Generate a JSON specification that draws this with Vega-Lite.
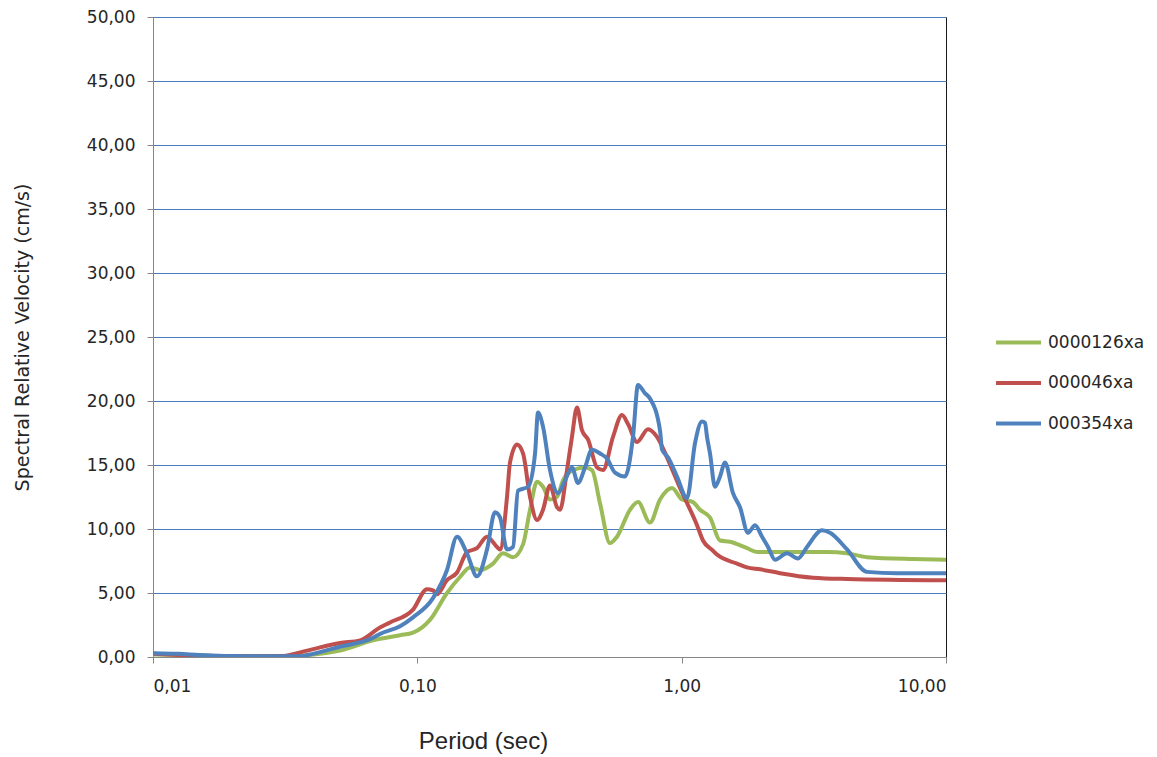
{
  "$schema": "https://vega.github.io/schema/vega-lite/v6.json",
  "autosize": {"type": "none"},
  "padding": {"left": 153, "top": 17, "right": 211, "bottom": 100},
  "width": 793,
  "height": 640,
  "background": "#ffffff",
  "config": {
    "view": {"stroke": "#1a1a1a", "strokeWidth": 1},
    "axis": {
      "labelFont": "DejaVu Sans",
      "labelFontSize": 17,
      "labelColor": "#262626",
      "domainColor": "#868686",
      "tickColor": "#868686",
      "tickSize": 6,
      "titleColor": "#262626",
      "titleFontWeight": "normal"
    },
    "legend": {
      "labelFont": "DejaVu Sans",
      "labelFontSize": 17,
      "labelColor": "#262626"
    }
  },
  "data": {
    "values": [
      {"record": "0000126xa", "period": 0.01, "velocity": 0.2},
      {"record": "0000126xa", "period": 0.0125, "velocity": 0.18},
      {"record": "0000126xa", "period": 0.015, "velocity": 0.12},
      {"record": "0000126xa", "period": 0.0233, "velocity": 0.05},
      {"record": "0000126xa", "period": 0.03, "velocity": 0.05},
      {"record": "0000126xa", "period": 0.036, "velocity": 0.1},
      {"record": "0000126xa", "period": 0.051, "velocity": 0.5},
      {"record": "0000126xa", "period": 0.068, "velocity": 1.3},
      {"record": "0000126xa", "period": 0.086, "velocity": 1.7},
      {"record": "0000126xa", "period": 0.0963, "velocity": 1.9},
      {"record": "0000126xa", "period": 0.1116, "velocity": 2.9},
      {"record": "0000126xa", "period": 0.1295, "velocity": 5.0},
      {"record": "0000126xa", "period": 0.145, "velocity": 6.25},
      {"record": "0000126xa", "period": 0.1582, "velocity": 7.0},
      {"record": "0000126xa", "period": 0.1726, "velocity": 6.8},
      {"record": "0000126xa", "period": 0.1933, "velocity": 7.3},
      {"record": "0000126xa", "period": 0.2109, "velocity": 8.1},
      {"record": "0000126xa", "period": 0.2301, "velocity": 7.8},
      {"record": "0000126xa", "period": 0.2511, "velocity": 8.8},
      {"record": "0000126xa", "period": 0.2669, "velocity": 11.5},
      {"record": "0000126xa", "period": 0.2837, "velocity": 13.7},
      {"record": "0000126xa", "period": 0.2988, "velocity": 13.3},
      {"record": "0000126xa", "period": 0.3176, "velocity": 12.3},
      {"record": "0000126xa", "period": 0.3375, "velocity": 12.5},
      {"record": "0000126xa", "period": 0.3557, "velocity": 13.8},
      {"record": "0000126xa", "period": 0.388, "velocity": 14.6},
      {"record": "0000126xa", "period": 0.4308, "velocity": 14.8},
      {"record": "0000126xa", "period": 0.4579, "velocity": 14.6},
      {"record": "0000126xa", "period": 0.4911, "velocity": 12.0},
      {"record": "0000126xa", "period": 0.5357, "velocity": 8.9},
      {"record": "0000126xa", "period": 0.5694, "velocity": 9.4},
      {"record": "0000126xa", "period": 0.6376, "velocity": 11.5},
      {"record": "0000126xa", "period": 0.6837, "velocity": 12.1},
      {"record": "0000126xa", "period": 0.7589, "velocity": 10.5},
      {"record": "0000126xa", "period": 0.8282, "velocity": 12.3},
      {"record": "0000126xa", "period": 0.9194, "velocity": 13.2},
      {"record": "0000126xa", "period": 1.003, "velocity": 12.3},
      {"record": "0000126xa", "period": 1.104, "velocity": 12.1},
      {"record": "0000126xa", "period": 1.173, "velocity": 11.5},
      {"record": "0000126xa", "period": 1.28, "velocity": 10.9},
      {"record": "0000126xa", "period": 1.397, "velocity": 9.1},
      {"record": "0000126xa", "period": 1.524, "velocity": 9.0},
      {"record": "0000126xa", "period": 1.767, "velocity": 8.5},
      {"record": "0000126xa", "period": 1.928, "velocity": 8.2},
      {"record": "0000126xa", "period": 2.355, "velocity": 8.2},
      {"record": "0000126xa", "period": 3.547, "velocity": 8.2},
      {"record": "0000126xa", "period": 4.222, "velocity": 8.1},
      {"record": "0000126xa", "period": 5.025, "velocity": 7.8},
      {"record": "0000126xa", "period": 7.505, "velocity": 7.65},
      {"record": "0000126xa", "period": 10, "velocity": 7.6},

      {"record": "000046xa", "period": 0.01, "velocity": 0.25},
      {"record": "000046xa", "period": 0.015, "velocity": 0.1},
      {"record": "000046xa", "period": 0.0233, "velocity": 0.05},
      {"record": "000046xa", "period": 0.031, "velocity": 0.08},
      {"record": "000046xa", "period": 0.0383, "velocity": 0.5},
      {"record": "000046xa", "period": 0.051, "velocity": 1.1},
      {"record": "000046xa", "period": 0.0607, "velocity": 1.3},
      {"record": "000046xa", "period": 0.0722, "velocity": 2.3},
      {"record": "000046xa", "period": 0.0788, "velocity": 2.7},
      {"record": "000046xa", "period": 0.0963, "velocity": 3.7},
      {"record": "000046xa", "period": 0.1088, "velocity": 5.3},
      {"record": "000046xa", "period": 0.1146, "velocity": 5.2},
      {"record": "000046xa", "period": 0.1187, "velocity": 4.9},
      {"record": "000046xa", "period": 0.1295, "velocity": 6.0},
      {"record": "000046xa", "period": 0.1413, "velocity": 6.6},
      {"record": "000046xa", "period": 0.1541, "velocity": 8.2},
      {"record": "000046xa", "period": 0.1681, "velocity": 8.5},
      {"record": "000046xa", "period": 0.1835, "velocity": 9.4},
      {"record": "000046xa", "period": 0.2001, "velocity": 8.6},
      {"record": "000046xa", "period": 0.2055, "velocity": 8.4},
      {"record": "000046xa", "period": 0.2184, "velocity": 12.5},
      {"record": "000046xa", "period": 0.2242, "velocity": 15.2},
      {"record": "000046xa", "period": 0.2383, "velocity": 16.6},
      {"record": "000046xa", "period": 0.2511, "velocity": 15.9},
      {"record": "000046xa", "period": 0.2669, "velocity": 12.5},
      {"record": "000046xa", "period": 0.2837, "velocity": 10.7},
      {"record": "000046xa", "period": 0.2988, "velocity": 11.5},
      {"record": "000046xa", "period": 0.3176, "velocity": 13.4},
      {"record": "000046xa", "period": 0.3375, "velocity": 11.7},
      {"record": "000046xa", "period": 0.3465, "velocity": 11.5},
      {"record": "000046xa", "period": 0.3683, "velocity": 14.6},
      {"record": "000046xa", "period": 0.3846, "velocity": 17.2},
      {"record": "000046xa", "period": 0.4018, "velocity": 19.5},
      {"record": "000046xa", "period": 0.4198, "velocity": 17.7},
      {"record": "000046xa", "period": 0.4422, "velocity": 17.0},
      {"record": "000046xa", "period": 0.4783, "velocity": 14.8},
      {"record": "000046xa", "period": 0.504, "velocity": 14.6},
      {"record": "000046xa", "period": 0.5499, "velocity": 17.2},
      {"record": "000046xa", "period": 0.5947, "velocity": 18.9},
      {"record": "000046xa", "period": 0.6266, "velocity": 18.2},
      {"record": "000046xa", "period": 0.6778, "velocity": 16.8},
      {"record": "000046xa", "period": 0.7461, "velocity": 17.8},
      {"record": "000046xa", "period": 0.8067, "velocity": 17.2},
      {"record": "000046xa", "period": 0.88, "velocity": 15.6},
      {"record": "000046xa", "period": 0.9856, "velocity": 13.2},
      {"record": "000046xa", "period": 1.143, "velocity": 10.3},
      {"record": "000046xa", "period": 1.204, "velocity": 9.1},
      {"record": "000046xa", "period": 1.314, "velocity": 8.3},
      {"record": "000046xa", "period": 1.36, "velocity": 8.0},
      {"record": "000046xa", "period": 1.62, "velocity": 7.3},
      {"record": "000046xa", "period": 1.767, "velocity": 7.0},
      {"record": "000046xa", "period": 1.979, "velocity": 6.85},
      {"record": "000046xa", "period": 2.355, "velocity": 6.55},
      {"record": "000046xa", "period": 3.14, "velocity": 6.2},
      {"record": "000046xa", "period": 4.222, "velocity": 6.1},
      {"record": "000046xa", "period": 10, "velocity": 6.0},

      {"record": "000354xa", "period": 0.01, "velocity": 0.3},
      {"record": "000354xa", "period": 0.0125, "velocity": 0.25},
      {"record": "000354xa", "period": 0.015, "velocity": 0.15},
      {"record": "000354xa", "period": 0.0233, "velocity": 0.05},
      {"record": "000354xa", "period": 0.036, "velocity": 0.05},
      {"record": "000354xa", "period": 0.0383, "velocity": 0.15},
      {"record": "000354xa", "period": 0.051, "velocity": 0.8},
      {"record": "000354xa", "period": 0.068, "velocity": 1.5},
      {"record": "000354xa", "period": 0.0722, "velocity": 1.8},
      {"record": "000354xa", "period": 0.086, "velocity": 2.4},
      {"record": "000354xa", "period": 0.0963, "velocity": 3.1},
      {"record": "000354xa", "period": 0.1146, "velocity": 4.6},
      {"record": "000354xa", "period": 0.1295, "velocity": 6.8},
      {"record": "000354xa", "period": 0.1413, "velocity": 9.4},
      {"record": "000354xa", "period": 0.1541, "velocity": 8.1},
      {"record": "000354xa", "period": 0.1681, "velocity": 6.3},
      {"record": "000354xa", "period": 0.1835, "velocity": 8.4},
      {"record": "000354xa", "period": 0.1967, "velocity": 11.3},
      {"record": "000354xa", "period": 0.2055, "velocity": 10.9},
      {"record": "000354xa", "period": 0.2184, "velocity": 8.4},
      {"record": "000354xa", "period": 0.2301, "velocity": 8.6},
      {"record": "000354xa", "period": 0.2404, "velocity": 13.0},
      {"record": "000354xa", "period": 0.2623, "velocity": 13.3},
      {"record": "000354xa", "period": 0.2788, "velocity": 15.9},
      {"record": "000354xa", "period": 0.2861, "velocity": 19.1},
      {"record": "000354xa", "period": 0.2988, "velocity": 18.0},
      {"record": "000354xa", "period": 0.3176, "velocity": 14.6},
      {"record": "000354xa", "period": 0.3405, "velocity": 12.8},
      {"record": "000354xa", "period": 0.362, "velocity": 13.8},
      {"record": "000354xa", "period": 0.3846, "velocity": 14.8},
      {"record": "000354xa", "period": 0.4053, "velocity": 13.6},
      {"record": "000354xa", "period": 0.4308, "velocity": 14.8},
      {"record": "000354xa", "period": 0.4579, "velocity": 16.2},
      {"record": "000354xa", "period": 0.4911, "velocity": 15.9},
      {"record": "000354xa", "period": 0.5218, "velocity": 15.5},
      {"record": "000354xa", "period": 0.5595, "velocity": 14.4},
      {"record": "000354xa", "period": 0.6104, "velocity": 14.1},
      {"record": "000354xa", "period": 0.6545, "velocity": 17.2},
      {"record": "000354xa", "period": 0.6837, "velocity": 21.25},
      {"record": "000354xa", "period": 0.7268, "velocity": 20.6},
      {"record": "000354xa", "period": 0.7589, "velocity": 20.2},
      {"record": "000354xa", "period": 0.8282, "velocity": 17.7},
      {"record": "000354xa", "period": 0.8427, "velocity": 16.2},
      {"record": "000354xa", "period": 0.8877, "velocity": 15.6},
      {"record": "000354xa", "period": 0.9603, "velocity": 14.1},
      {"record": "000354xa", "period": 1.048, "velocity": 12.4},
      {"record": "000354xa", "period": 1.123, "velocity": 16.7},
      {"record": "000354xa", "period": 1.194, "velocity": 18.4},
      {"record": "000354xa", "period": 1.225, "velocity": 18.3},
      {"record": "000354xa", "period": 1.247, "velocity": 17.2},
      {"record": "000354xa", "period": 1.28, "velocity": 15.9},
      {"record": "000354xa", "period": 1.337, "velocity": 13.3},
      {"record": "000354xa", "period": 1.397, "velocity": 14.1},
      {"record": "000354xa", "period": 1.459, "velocity": 15.2},
      {"record": "000354xa", "period": 1.564, "velocity": 12.8},
      {"record": "000354xa", "period": 1.662, "velocity": 11.7},
      {"record": "000354xa", "period": 1.782, "velocity": 9.7},
      {"record": "000354xa", "period": 1.895, "velocity": 10.3},
      {"record": "000354xa", "period": 2.014, "velocity": 9.4},
      {"record": "000354xa", "period": 2.122, "velocity": 8.6},
      {"record": "000354xa", "period": 2.256, "velocity": 7.6},
      {"record": "000354xa", "period": 2.503, "velocity": 8.1},
      {"record": "000354xa", "period": 2.755, "velocity": 7.7},
      {"record": "000354xa", "period": 2.98, "velocity": 8.6},
      {"record": "000354xa", "period": 3.396, "velocity": 9.9},
      {"record": "000354xa", "period": 3.641, "velocity": 9.7},
      {"record": "000354xa", "period": 4.222, "velocity": 8.4},
      {"record": "000354xa", "period": 5.025, "velocity": 6.65},
      {"record": "000354xa", "period": 6.525, "velocity": 6.55},
      {"record": "000354xa", "period": 10, "velocity": 6.55}
    ]
  },
  "mark": {"type": "line", "interpolate": "monotone", "strokeWidth": 4, "strokeCap": "round", "strokeJoin": "round", "clip": true},
  "encoding": {
    "x": {
      "field": "period",
      "type": "quantitative",
      "scale": {"type": "log", "domain": [0.01, 10], "nice": false},
      "axis": {
        "title": "Period (sec)",
        "values": [0.01, 0.1, 1, 10],
        "labelExpr": "replace(format(datum.value, '.2f'), '.', ',')",
        "labelPadding": 15,
        "grid": false,
        "titleFont": "Liberation Sans",
        "titleFontSize": 24,
        "titleX": 330,
        "titleY": 84,
        "titleBaseline": "middle",
        "titleAlign": "center"
      }
    },
    "y": {
      "field": "velocity",
      "type": "quantitative",
      "scale": {"domain": [0, 50], "nice": false},
      "axis": {
        "title": "Spectral Relative Velocity (cm/s)",
        "values": [0, 5, 10, 15, 20, 25, 30, 35, 40, 45, 50],
        "labelExpr": "replace(format(datum.value, '.2f'), '.', ',')",
        "labelPadding": 12,
        "grid": true,
        "gridColor": "#4A7EBB",
        "gridWidth": 1,
        "titleFont": "DejaVu Sans",
        "titleFontSize": 19,
        "titleAngle": -90,
        "titleX": -131,
        "titleY": 320,
        "titleBaseline": "middle",
        "titleAlign": "center"
      }
    },
    "color": {
      "field": "record",
      "type": "nominal",
      "scale": {
        "domain": ["0000126xa", "000046xa", "000354xa"],
        "range": ["#9BBB59", "#C0504D", "#4F81BD"]
      },
      "legend": {
        "title": null,
        "orient": "none",
        "legendX": 841,
        "legendY": 301,
        "symbolType": "stroke",
        "symbolStrokeWidth": 4,
        "symbolSize": 2025,
        "labelOffset": 5,
        "rowPadding": 7.5
      }
    }
  }
}
